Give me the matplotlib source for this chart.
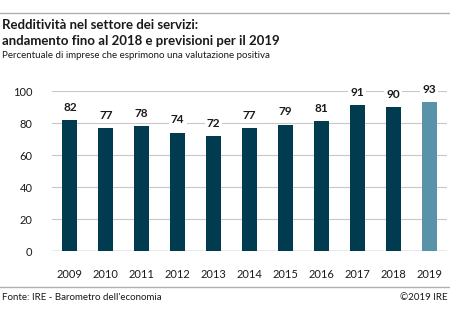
import matplotlib
matplotlib.use("Agg")
import matplotlib.pyplot as plt
from matplotlib.lines import Line2D

years = ["2009", "2010", "2011", "2012", "2013", "2014", "2015", "2016", "2017", "2018", "2019"]
values = [82, 77, 78, 74, 72, 77, 79, 81, 91, 90, 93]
forecast = [False] * 10 + [True]
y_ticks = [0, 20, 40, 60, 80, 100]

dark_blue = "#003b50"
light_blue = "#5893a9"
grid_grey = "#c8c8c8"
text_col = "#1a1a1a"

plt.rcParams["font.family"] = ["Lato", "DejaVu Sans"]

fig = plt.figure(figsize=(4.5, 3.29), dpi=100)
W, H = 450, 329

# axes box in pixel coordinates: left 52, right 447, y=0 at 251, y=100 at 91
ax = fig.add_axes([52 / W, 1 - 251 / H, (447 - 52) / W, 160 / H])
colors = [light_blue if f else dark_blue for f in forecast]
x = range(len(years))
ax.bar(x, values, width=0.42, color=colors, zorder=3)

for i, v in enumerate(values):
    ax.text(i, v + 4.5, str(v), ha="center", va="bottom", fontsize=8.5,
            fontweight="bold", color=text_col, zorder=4,
            bbox=dict(facecolor="white", edgecolor="none", pad=1.5))

ax.set_ylim(0, 100)
ax.set_xlim(-0.5, len(years) - 0.5)
ax.set_yticks(y_ticks)
ax.set_xticks(list(x))
ax.set_xticklabels(years)
ax.tick_params(axis="both", length=0, labelsize=8, colors=text_col)
ax.tick_params(axis="x", pad=13)
ax.tick_params(axis="y", pad=14)
ax.grid(axis="y", color=grid_grey, linewidth=0.8, zorder=0)
ax.axhline(0, color="#a0a0a0", linewidth=1.0, zorder=2)
for s in ax.spines.values():
    s.set_visible(False)

# title block and footer rules
fig.add_artist(Line2D([0, 1], [1 - 13 / H, 1 - 13 / H], color="#b0b0b0", linewidth=1))
fig.add_artist(Line2D([0, 1], [1 - 287 / H, 1 - 287 / H], color="#b0b0b0", linewidth=1))
fig.text(2 / W, 1 - 25 / H, "Redditività nel settore dei servizi:", fontsize=9.5,
         fontweight="bold", color=text_col, va="center")
fig.text(2 / W, 1 - 41 / H, "andamento fino al 2018 e previsioni per il 2019", fontsize=9.5,
         fontweight="bold", color=text_col, va="center")
fig.text(2 / W, 1 - 56 / H, "Percentuale di imprese che esprimono una valutazione positiva",
         fontsize=7, color=text_col, va="center")
fig.text(2 / W, 1 - 297 / H, "Fonte: IRE - Barometro dell'economia", fontsize=7,
         color=text_col, va="center")
fig.text(448 / W, 1 - 297 / H, "©2019 IRE", fontsize=7, color=text_col,
         va="center", ha="right")

fig.savefig("out.png", dpi=100)
